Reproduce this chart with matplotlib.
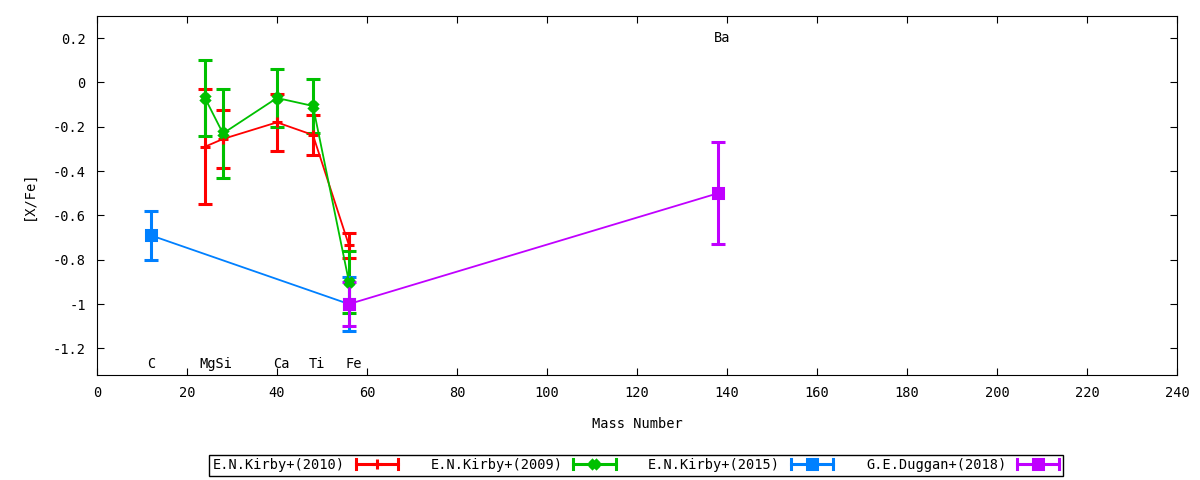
import matplotlib
matplotlib.use('Agg')
import matplotlib.pyplot as plt
from matplotlib.lines import Line2D
from matplotlib.legend_handler import HandlerBase

plt.rcParams['font.family'] = ['DejaVu Sans Mono']
plt.rcParams['font.size'] = 9.8

# mass numbers of the elements
m_kirby = [24, 28, 40, 48, 56]   # Mg Si Ca Ti Fe

kirby10_y = [-0.29, -0.255, -0.18, -0.237, -0.735]
kirby10_err = [0.26, 0.13, 0.13, 0.09, 0.055]

kirby09_y = [-0.07, -0.23, -0.07, -0.106, -0.90]
kirby09_err = [0.17, 0.20, 0.13, 0.12, 0.14]

kirby15_x = [12, 56]   # C Fe
kirby15_y = [-0.69, -1.0]
kirby15_err = [0.11, 0.12]

duggan_x = [56, 138]   # Fe Ba
duggan_y = [-1.0, -0.50]
duggan_err = [0.10, 0.23]

elem_names = ['C', 'MgSi', 'Ca', 'Ti', 'Fe', 'Ba']
elem_x = [12, 26.5, 41, 49, 57, 139]
elem_y = [-1.27, -1.27, -1.27, -1.27, -1.27, 0.2]

labels = ['E.N.Kirby+(2010)', 'E.N.Kirby+(2009)', 'E.N.Kirby+(2015)', 'G.E.Duggan+(2018)']
colors = ['#ff0000', '#00c000', '#0080ff', '#c000ff']
markers = ['+', 'X', 's', 's']
msizes = [7, 6, 6.5, 6.5]


# gnuplot style key sample: horizontal bar with caps and the point
class HErrHandler(HandlerBase):
    def create_artists(self, legend, orig, xd, yd, w, h, fs, trans):
        y = h / 2 - yd
        x0, x1 = -xd, -xd + w
        c = orig.get_color()
        arts = [Line2D([x0, x1], [y, y], color=c, lw=2.2),
                Line2D([x0, x0], [y - 3.5, y + 3.5], color=c, lw=2.2),
                Line2D([x1, x1], [y - 3.5, y + 3.5], color=c, lw=2.2),
                Line2D([(x0 + x1) / 2], [y], color=c, marker=orig.get_marker(),
                       ms=orig.get_markersize(), mew=2.2, lw=0)]
        for a in arts:
            a.set_transform(trans)
        return arts


fig = plt.figure(figsize=(12, 4.8), dpi=100)
ax = fig.add_axes([0.0808, 0.2188, 0.9, 0.7479])

series = [(m_kirby, kirby10_y, kirby10_err), (m_kirby, kirby09_y, kirby09_err),
          (kirby15_x, kirby15_y, kirby15_err), (duggan_x, duggan_y, duggan_err)]
for (x, y, e), c, mk, ms in zip(series, colors, markers, msizes):
    ax.errorbar(x, y, yerr=e, color=c, marker=mk, ms=ms, mew=2.2,
                elinewidth=2.2, capsize=5, capthick=2.2, lw=1.3)

for name, x, y in zip(elem_names, elem_x, elem_y):
    ax.text(x, y, name, ha='center', va='center')

ax.set_xlim(0, 240)
ax.set_ylim(-1.32, 0.3)
ax.set_xticks(range(0, 241, 20))
ax.set_yticks([0.2, 0, -0.2, -0.4, -0.6, -0.8, -1, -1.2])
ax.set_yticklabels(['0.2', '0', '-0.2', '-0.4', '-0.6', '-0.8', '-1', '-1.2'])
ax.tick_params(direction='in', top=True, right=True, length=5, pad=8)
ax.set_xlabel('Mass Number', labelpad=12)
ax.set_ylabel('[X/Fe]', labelpad=12)

handles = [Line2D([], [], color=c, marker=mk, ms=ms) for c, mk, ms in zip(colors, markers, msizes)]
leg = fig.legend(handles, labels, loc='center', bbox_to_anchor=(0.53, 0.031), ncol=4,
                 markerfirst=False, handler_map={Line2D: HErrHandler()},
                 fancybox=False, edgecolor='black', framealpha=1, borderpad=0.25,
                 columnspacing=2.4, handlelength=3.1, handletextpad=0.8, borderaxespad=0)
leg.get_frame().set_linewidth(1)

fig.savefig('out.png', dpi=100)
